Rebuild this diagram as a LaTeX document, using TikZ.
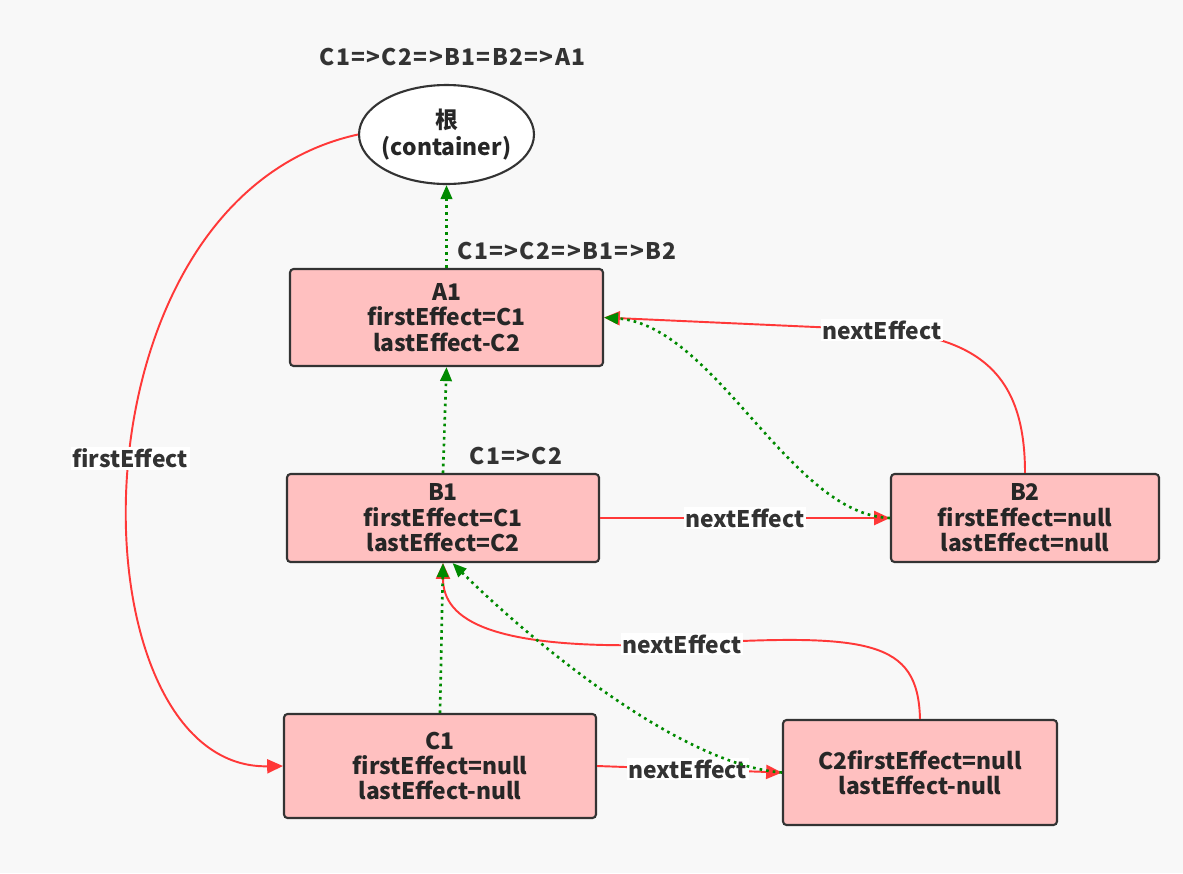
\documentclass[tikz,border=0pt]{standalone}
\usepackage{fontspec}
\setmainfont{Noto Sans CJK SC}
\usetikzlibrary{arrows.meta,shapes.geometric}
\definecolor{bg}{HTML}{F8F8F8}
\definecolor{fiberfill}{HTML}{FFC0C0}
\definecolor{fiberline}{HTML}{333333}
\definecolor{effectred}{HTML}{FF3838}
\definecolor{donegreen}{HTML}{008A00}
\tikzset{
  fiber/.style = {draw = fiberline, line width = 1.2pt, fill = fiberfill, rounded corners = 2pt, align = center, inner sep = 0pt, text = black!85},
  rootnode/.style = {ellipse, draw = fiberline, line width = 1.2pt, fill = white, align = center, inner sep = 0pt, inner xsep = -3pt, minimum width = 3.5cm, minimum height = 1.98cm, text = black!85},
  effect/.style = {draw = effectred, line width = 1.1pt, -{Triangle[length = 9pt, width = 8pt]}},
  done/.style = {draw = donegreen, line width = 1.5pt, dash pattern = on 1.5pt off 2.3pt, -{Triangle[length = 8pt, width = 6.5pt]}},
  tag/.style = {fill = white, inner sep = 1pt, text = fiberline},
  order/.style = {text = fiberline, font = \fontsize{13}{14.5}\selectfont\bfseries\addfontfeature{LetterSpace = 6}}
}
\begin{document}
\begin{tikzpicture}[x = 0.02cm, y = -0.02cm, font = \fontsize{13}{14.5}\selectfont\bfseries]
            % background
            \path[fill = bg](0,0)rectangle(1183,873);
            \useasboundingbox(0,0)rectangle(1183,873);
            % 根
            \node[rootnode](root)at(446.5,134.5){根\\[1pt](container)};
            \node[order](rootorder)at(452.5,57){C1=>C2=>B1=B2=>A1};
            % fibers
            \node[fiber, minimum width = 6.26cm, minimum height = 1.94cm](A1)at(446.5,317.5){A1\\firstEffect=C1\\lastEffect-C2};
            \node[fiber, minimum width = 6.24cm, minimum height = 1.76cm](B1)at(443,518){B1\\firstEffect=C1\\lastEffect=C2};
            \node[fiber, minimum width = 5.36cm, minimum height = 1.76cm](B2)at(1025,518){B2\\firstEffect=null\\lastEffect=null};
            \node[fiber, minimum width = 6.24cm, minimum height = 2.08cm](C1)at(440,766){C1\\firstEffect=null\\lastEffect-null};
            \node[fiber, minimum width = 5.48cm, minimum height = 2.10cm](C2)at(920,772.5){C2firstEffect=null\\lastEffect-null};
            \node[order](A1order)at(567,251){C1=>C2=>B1=>B2};
            \node[order](B1order)at(516,456){C1=>C2};
            % nextEffect / firstEffect
            \path[effect](root.west) .. controls (60,200) and (70,770) .. (C1.west) node[tag, pos = 0.48]{firstEffect};
            \path[effect](B1.east)--(B2.west) node[tag, pos = 0.5]{nextEffect};
            \path[effect](C1.east)--(C2.west) node[tag, pos = 0.49]{nextEffect};
            \path[effect](B2.north) .. controls (1025,380) and (985,338) .. (882,330) node[tag]{nextEffect} -- (A1.east);
            \path[effect](C2.north) .. controls (918,640) and (870,633) .. (682,644) node[tag]{nextEffect} .. controls (490,652) and (443,620) .. (B1.south);
            % effect list
            \path[done](A1.north)--(root.south);
            \path[done](B1.north)--(A1.south);
            \path[done](C1.north)--(B1.south);
            \path[done](B2.west) .. controls (790,515) and (715,325) .. (A1.east);
            \path[done](C2.west) .. controls (680,765) and (530,640) .. (B1.-78);
        \end{tikzpicture}
\end{document}
